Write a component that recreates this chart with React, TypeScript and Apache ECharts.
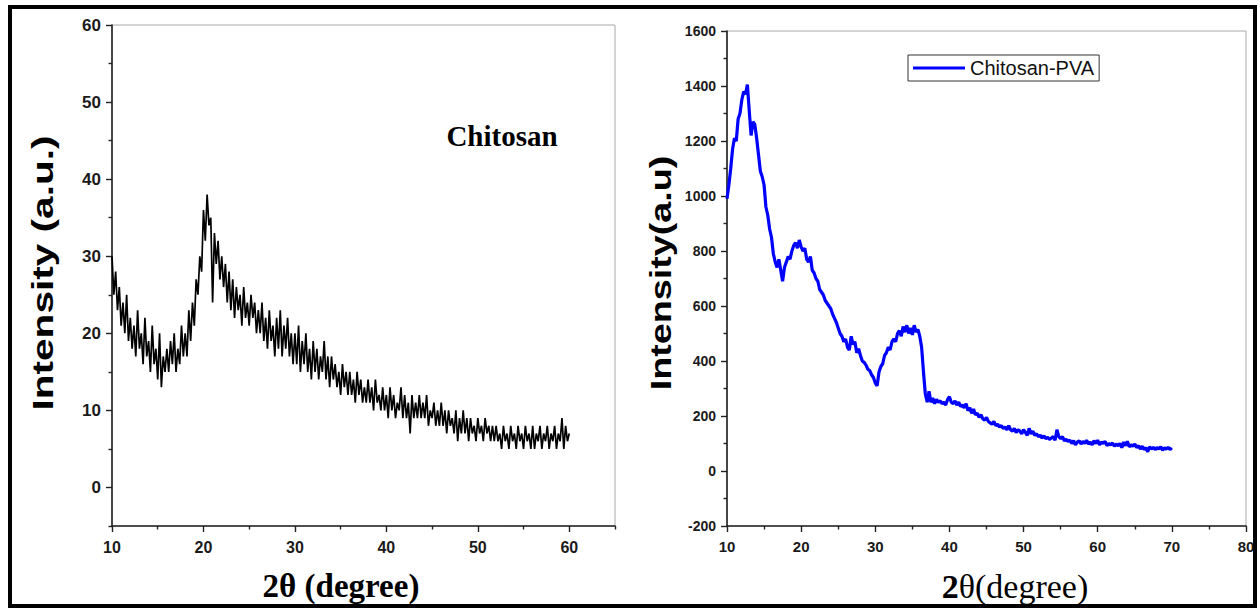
import React, { useEffect, useRef } from "react";
import * as echarts from "echarts";

// Chitosan XRD scan: 2θ from 10 to 60, step 0.2
const chitosanStart = 10;
const chitosanStep = 0.2;
const chitosanIntensity = [
  30, 25, 28, 23, 26, 21, 24, 20, 25, 19,
  22, 18, 21, 17, 23, 18, 20, 16, 22, 17,
  19, 15, 21, 16, 18, 14, 20, 13, 17, 15,
  18, 15, 19, 16, 20, 15, 18, 16, 21, 17,
  20, 17, 23, 19, 24, 21, 27, 25, 30, 28,
  36, 32, 38, 34, 35, 24, 33, 29, 32, 27,
  30, 26, 29, 24, 28, 23, 27, 22, 26, 23,
  25, 21, 26, 22, 24, 21, 25, 22, 24, 20,
  23, 20, 24, 19, 22, 18, 23, 19, 21, 17,
  22, 18, 23, 17, 21, 18, 22, 17, 20, 16,
  20, 16, 21, 15, 19, 16, 20, 15, 18, 14,
  19, 15, 18, 14, 17, 15, 19, 14, 17, 13,
  17, 14, 16, 13, 15, 12, 16, 13, 15, 12,
  15, 12, 14, 11, 15, 12, 14, 11, 13, 11,
  14, 11, 13, 10, 14, 11, 12, 10, 13, 10,
  12, 9, 13, 10, 12, 9, 11, 10, 13, 9,
  12, 9, 11, 7, 12, 9, 11, 9, 12, 9,
  11, 9, 12, 8, 10, 9, 11, 8, 10, 8,
  11, 8, 10, 7, 10, 8, 9, 7, 10, 6,
  9, 7, 10, 7, 9, 6, 9, 7, 8, 6,
  9, 7, 8, 6, 9, 7, 8, 6, 8, 6,
  8, 6, 7, 5, 8, 6, 7, 5, 8, 6,
  7, 5, 8, 6, 7, 5, 8, 6, 7, 5,
  8, 5, 7, 6, 8, 5, 7, 6, 8, 5,
  7, 6, 8, 5, 7, 6, 9, 5, 8, 6,
  7,
];

// Chitosan-PVA XRD scan: 2θ from 10 to 70, step 0.25
const pvaStart = 10;
const pvaStep = 0.25;
const pvaIntensity = [
  990, 1040, 1100, 1170, 1210, 1200, 1280, 1300,
  1350, 1380, 1370, 1405, 1310, 1220, 1270, 1260,
  1210, 1150, 1090, 1070, 1040, 960, 930, 880,
  850, 790, 760, 740, 770, 730, 690, 740,
  760, 780, 770, 800, 820, 830, 810, 840,
  815, 800, 810, 770, 760, 780, 730, 720,
  700, 690, 660, 650, 640, 620, 610, 600,
  590, 570, 555, 540, 520, 500, 490, 470,
  480, 450, 440, 490, 460, 470, 430, 445,
  420, 400, 395, 385, 370, 365, 350, 340,
  320, 310, 360, 380, 390, 420, 430, 450,
  440, 470, 480, 470, 500, 510, 490, 525,
  505, 530, 500, 520, 495, 530, 505, 515,
  490, 450, 360, 280, 250, 290, 250, 265,
  245, 260, 250, 255, 245, 250, 240, 260,
  270, 250, 245, 255, 240, 250, 235, 240,
  230, 245, 220, 230, 210, 225, 205, 210,
  195, 205, 190, 185, 195, 180, 175, 170,
  180, 165, 170, 160, 165, 155, 160, 150,
  165, 150, 145, 155, 140, 150, 145, 135,
  150, 140, 130, 155, 135, 145, 130, 135,
  125, 130, 120, 128, 118, 122, 115, 120,
  125, 112, 150, 125, 118, 125, 110, 115,
  108, 112, 100, 110, 95, 105, 110, 98,
  108, 100, 112, 98, 105, 95, 110, 100,
  112, 95, 105, 100, 108, 92, 100, 95,
  102, 90, 98, 92, 100, 85, 105, 92,
  108, 88, 95, 90, 98, 85, 92, 80,
  90, 78, 85, 70, 88, 80, 86, 78,
  85, 80, 88, 76, 84, 80, 86, 78,
  84,
];

const leftXMajor = [10, 20, 30, 40, 50, 60];
const leftXMinor = [15, 25, 35, 45, 55, 65];
const leftYMajor = [0, 10, 20, 30, 40, 50, 60];
const leftYMinor = [-5, 5, 15, 25, 35, 45, 55];
const rightXMajor = [10, 20, 30, 40, 50, 60, 70, 80];
const rightXMinor = [15, 25, 35, 45, 55, 65, 75];
const rightYMajor = [-200, 0, 200, 400, 600, 800, 1000, 1200, 1400, 1600];
const rightYMinor = [-100, 100, 300, 500, 700, 900, 1100, 1300, 1500];

const sansFont = "'Liberation Sans', Arial, Helvetica, sans-serif";
const serifFont = "'Liberation Serif', 'Times New Roman', Times, serif";

export default function App() {
  const ref = useRef<HTMLDivElement>(null);
  useEffect(() => {
    if (!ref.current) return;
    const chart = echarts.init(ref.current, null, { renderer: "svg" });

    const chitosanData = chitosanIntensity.map((v, i) => [
      +(chitosanStart + i * chitosanStep).toFixed(2),
      v,
    ]);
    const pvaData = pvaIntensity.map((v, i) => [
      +(pvaStart + i * pvaStep).toFixed(2),
      v,
    ]);

    const axisLine = { onZero: false, lineStyle: { color: "#222", width: 1.6 } };

    const mkAxis = (
      kind: "x" | "y",
      gridIndex: number,
      min: number,
      max: number,
      major: number[],
      minor: number[],
      fontSize: number,
      margin: number
    ) => {
      const pos = kind === "x" ? "bottom" : "left";
      return [
        {
          type: "value",
          gridIndex,
          position: pos,
          min,
          max,
          axisLine,
          splitLine: { show: false },
          axisTick: {
            show: true,
            length: 6,
            customValues: major,
            lineStyle: { color: "#222", width: 1.4 },
          },
          axisLabel: {
            customValues: major,
            formatter: (v: number) => String(v),
            margin,
            fontSize,
            fontWeight: "bold",
            fontFamily: sansFont,
            color: "#1a1a1a",
          },
        },
        {
          type: "value",
          gridIndex,
          position: pos,
          min,
          max,
          axisLine: { ...axisLine, show: false },
          splitLine: { show: false },
          axisTick: {
            show: true,
            length: 3.5,
            customValues: minor,
            lineStyle: { color: "#222", width: 1.4 },
          },
          axisLabel: { show: false },
        },
      ];
    };

    chart.setOption({
      animation: false,
      backgroundColor: "#ffffff",
      grid: [
        { left: 112, top: 25, width: 503, height: 501, show: true, borderColor: "#a8a8a8", borderWidth: 1 },
        { left: 727, top: 31, width: 519, height: 495, show: true, borderColor: "#a8a8a8", borderWidth: 1 },
      ],
      xAxis: [
        ...mkAxis("x", 0, 10, 65, leftXMajor, leftXMinor, 16, 13),
        ...mkAxis("x", 1, 10, 80, rightXMajor, rightXMinor, 15, 13),
      ],
      yAxis: [
        ...mkAxis("y", 0, -5, 60, leftYMajor, leftYMinor, 17, 11),
        ...mkAxis("y", 1, -200, 1600, rightYMajor, rightYMinor, 14, 11),
      ],
      legend: {
        show: true,
        data: [{ name: "Chitosan-PVA", icon: "rect" }],
        left: 908,
        top: 55,
        orient: "horizontal",
        borderColor: "#333",
        borderWidth: 1,
        borderRadius: 0,
        padding: [3, 5, 3, 5],
        itemWidth: 52,
        itemHeight: 3,
        itemGap: 4,
        textStyle: { fontSize: 20, fontFamily: sansFont, color: "#111" },
      },
      series: [
        {
          type: "line",
          name: "Chitosan",
          xAxisIndex: 0,
          yAxisIndex: 0,
          data: chitosanData,
          symbol: "none",
          lineStyle: { color: "#000", width: 1.7 },
          itemStyle: { color: "#000" },
        },
        {
          type: "line",
          name: "Chitosan-PVA",
          xAxisIndex: 2,
          yAxisIndex: 2,
          data: pvaData,
          symbol: "none",
          lineStyle: { color: "#0000ff", width: 3.2 },
          itemStyle: { color: "#0000ff" },
        },
      ],
      graphic: [
        {
          type: "text",
          x: 502,
          y: 136,
          style: {
            text: "Chitosan",
            font: `bold 29px ${serifFont}`,
            fill: "#000",
            align: "center",
            verticalAlign: "middle",
          },
        },
        {
          type: "text",
          x: 43,
          y: 273,
          rotation: Math.PI / 2,
          scaleX: 1.4,
          style: {
            text: "Intensity (a.u.)",
            font: `bold 29px ${sansFont}`,
            fill: "#000",
            align: "center",
            verticalAlign: "middle",
          },
        },
        {
          type: "text",
          x: 661,
          y: 273,
          rotation: Math.PI / 2,
          scaleX: 1.3,
          style: {
            text: "Intensity(a.u)",
            font: `bold 29px ${sansFont}`,
            fill: "#000",
            align: "center",
            verticalAlign: "middle",
          },
        },
        {
          type: "text",
          x: 341,
          y: 586,
          style: {
            text: "2θ (degree)",
            font: `bold 33px ${serifFont}`,
            fill: "#000",
            align: "center",
            verticalAlign: "middle",
          },
        },
        {
          type: "text",
          x: 1015,
          y: 586,
          style: {
            rich: {
              b: { font: `bold 34px ${serifFont}`, fill: "#000" },
              r: { font: `34px ${serifFont}`, fill: "#000" },
            },
            text: "{b|2}{r|θ(degree)}",
            align: "center",
            verticalAlign: "middle",
          },
        },
        {
          type: "rect",
          z: 100,
          shape: { x: 10, y: 7, width: 1245, height: 599 },
          style: { fill: "none", stroke: "#000", lineWidth: 4 },
        },
      ],
    });
    return () => chart.dispose();
  }, []);
  return (
    <div
      ref={ref}
      style={{ position: "absolute", left: 0, top: 0, width: 1260, height: 608 }}
    />
  );
}
